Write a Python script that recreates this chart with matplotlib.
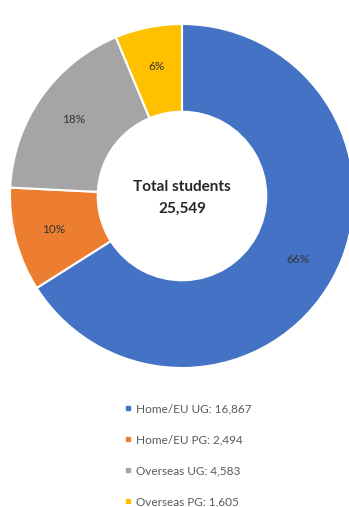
import numpy as np
from matplotlib import pyplot as plt
from matplotlib.lines import Line2D

categories = ['Home/EU UG', 'Home/EU PG', 'Overseas UG', 'Overseas PG']
students = [16867, 2494, 4583, 1605]
colors = ['#4472C4', '#ED7D31', '#A5A5A5', '#FFC000']

plt.rcParams['font.family'] = ['Lato', 'DejaVu Sans']

W, H = 349, 507
fig = plt.figure(figsize=(W / 100, H / 100), dpi=100)

# square axes: centre (182, 196) px, radius 172 px
cx, cy, r = 182, 196, 172
ax = fig.add_axes([(cx - r) / W, (H - cy - r) / H, 2 * r / W, 2 * r / H])

wedges, texts, autotexts = ax.pie(
    students, colors=colors, startangle=90, counterclock=False, radius=1,
    autopct='%1.0f%%', pctdistance=0.77,
    wedgeprops=dict(width=0.51, edgecolor='white', linewidth=1.5),
    textprops=dict(fontsize=8.5, color='#333333'))
for w in wedges:
    w.set_clip_on(False)
ax.set_xlim(-1, 1)
ax.set_ylim(-1, 1)
ax.set_aspect('equal')
ax.axis('off')

total = sum(students)
ax.text(0, 0.05, 'Total students', ha='center', va='center',
        fontsize=11, fontweight='bold', color='#262626')
ax.text(0, -0.077, f'{total:,}', ha='center', va='center',
        fontsize=11, fontweight='bold', color='#262626')

handles = [Line2D([], [], marker='s', linestyle='none', markersize=3.5,
                  markerfacecolor=c, markeredgecolor=c) for c in colors]
labels = [f'{n}: {v:,}' for n, v in zip(categories, students)]
leg = fig.legend(handles, labels, loc='center left',
                 bbox_to_anchor=(124 / W, 1 - 455.5 / H),
                 frameon=False, fontsize=8.5, labelspacing=1.7,
                 handlelength=0.6, handletextpad=0.45,
                 borderpad=0, borderaxespad=0, labelcolor='#595959')

fig.savefig('out.png', dpi=100)
